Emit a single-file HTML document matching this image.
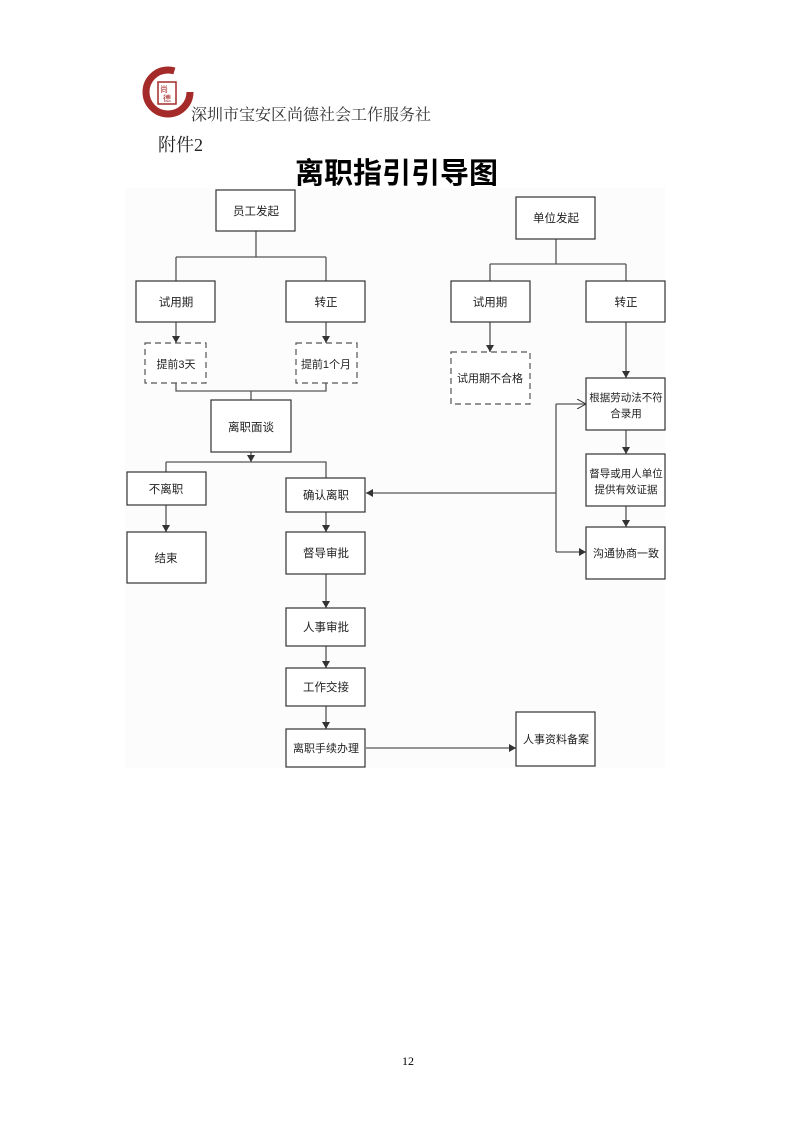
<!DOCTYPE html>
<html><head><meta charset="utf-8"><style>
body{margin:0;background:#fff;}
.p{position:relative;width:794px;height:1123px;overflow:hidden;font-family:"Liberation Serif","Noto Serif CJK SC",serif;}
.t{position:absolute;white-space:nowrap;}
</style></head><body><div class="p">
<svg width="794" height="1123" style="position:absolute;left:0;top:0" font-family="'Liberation Sans','Noto Sans CJK SC',sans-serif">
<defs><marker id="a" markerWidth="8" markerHeight="8" refX="7" refY="4" orient="auto" markerUnits="userSpaceOnUse"><path d="M0,0 L7,4 L0,8z" fill="#333"/></marker>
<marker id="o" markerWidth="10" markerHeight="10" refX="9" refY="5" orient="auto" markerUnits="userSpaceOnUse"><path d="M0,0 L9,5 L0,10" fill="none" stroke="#333"/></marker></defs>
<circle cx="168" cy="92" r="22" fill="none" stroke="#a52a2a" stroke-width="7" stroke-dasharray="110 30"/>
<rect x="158" y="82" width="18" height="22" fill="#fff" stroke="#a52a2a" stroke-width="1.5"/>
<text x="160" y="92" font-size="8" fill="#a52a2a">尚</text><text x="163" y="101" font-size="8" fill="#a52a2a">德</text>
<rect x="125" y="188" width="540" height="580" fill="#fcfcfc"/>
<g fill="none" stroke="#555" stroke-width="1.3">
<path d="M256,231V257M176,257H326M176,257V281M326,257V281"/>
<path d="M176,322V343" marker-end="url(#a)"/><path d="M326,322V343" marker-end="url(#a)"/>
<path d="M176,383V391H326V383M251,391V400"/>
<path d="M251,452V462" marker-end="url(#a)"/><path d="M166,462H326V478M166,462V472"/>
<path d="M166,505V532" marker-end="url(#a)"/>
<path d="M326,512V532" marker-end="url(#a)"/>
<path d="M326,574V608" marker-end="url(#a)"/>
<path d="M326,646V668" marker-end="url(#a)"/>
<path d="M326,706V729" marker-end="url(#a)"/>
<path d="M366,748H516" marker-end="url(#a)"/>
<path d="M556,239V264M490,264H626M490,264V281M626,264V281"/>
<path d="M490,322V352" marker-end="url(#a)"/>
<path d="M626,322V378" marker-end="url(#a)"/>
<path d="M626,430V454" marker-end="url(#a)"/>
<path d="M626,506V527" marker-end="url(#a)"/>
<path d="M556,404V552"/><path d="M556,404H586" marker-end="url(#o)"/><path d="M556,552H586" marker-end="url(#a)"/>
<path d="M556,493H366" marker-end="url(#a)"/>
</g>
<g fill="#fff" stroke="#333" stroke-width="1.2">
<rect x="216" y="190" width="79" height="41"/><rect x="136" y="281" width="79" height="41"/><rect x="286" y="281" width="79" height="41"/>
<rect x="211" y="400" width="80" height="52"/><rect x="127" y="472" width="79" height="33"/><rect x="127" y="532" width="79" height="51"/>
<rect x="286" y="478" width="79" height="34"/><rect x="286" y="532" width="79" height="42"/><rect x="286" y="608" width="79" height="38"/>
<rect x="286" y="668" width="79" height="38"/><rect x="286" y="729" width="79" height="38"/><rect x="516" y="712" width="79" height="54"/>
<rect x="516" y="197" width="79" height="42"/><rect x="451" y="281" width="79" height="41"/><rect x="586" y="281" width="79" height="41"/>
<rect x="586" y="378" width="79" height="52"/><rect x="586" y="454" width="79" height="52"/><rect x="586" y="527" width="79" height="52"/>
</g>
<g fill="#fff" stroke="#555" stroke-width="1.2" stroke-dasharray="6 4">
<rect x="145" y="343" width="61" height="40"/><rect x="296" y="343" width="61" height="40"/><rect x="451" y="352" width="79" height="52"/>
</g>
<g font-size="11.5" fill="#222" text-anchor="middle">
<text x="256" y="215">员工发起</text><text x="176" y="306">试用期</text><text x="326" y="306">转正</text>
<text x="176" y="368" font-size="11">提前3天</text><text x="326" y="368" font-size="11">提前1个月</text>
<text x="251" y="431">离职面谈</text><text x="166" y="493">不离职</text><text x="166" y="562">结束</text>
<text x="326" y="499">确认离职</text><text x="326" y="557">督导审批</text><text x="326" y="631">人事审批</text>
<text x="326" y="691">工作交接</text><text x="326" y="752" font-size="11">离职手续办理</text><text x="556" y="743" font-size="11">人事资料备案</text>
<text x="556" y="222">单位发起</text><text x="490" y="306">试用期</text><text x="626" y="306">转正</text>
<text x="490" y="382" font-size="11">试用期不合格</text>
<text x="626" y="401" font-size="10.5">根据劳动法不符</text><text x="626" y="417" font-size="10.5">合录用</text>
<text x="626" y="477" font-size="10.5">督导或用人单位</text><text x="626" y="493" font-size="10.5">提供有效证据</text>
<text x="626" y="557" font-size="11">沟通协商一致</text>
</g>
</svg>
<div class="t" style="left:191px;top:102px;font-size:16px;color:#333">深圳市宝安区尚德社会工作服务社</div>
<div class="t" style="left:158px;top:131px;font-size:18px;color:#222">附件2</div>
<div class="t" style="left:295px;top:150px;font-size:29px;font-weight:bold;color:#000;font-family:'Liberation Sans','Noto Sans CJK SC',sans-serif">离职指引引导图</div>
<div class="t" style="left:402px;top:1054px;font-size:12px">12</div>
</div></body></html>
